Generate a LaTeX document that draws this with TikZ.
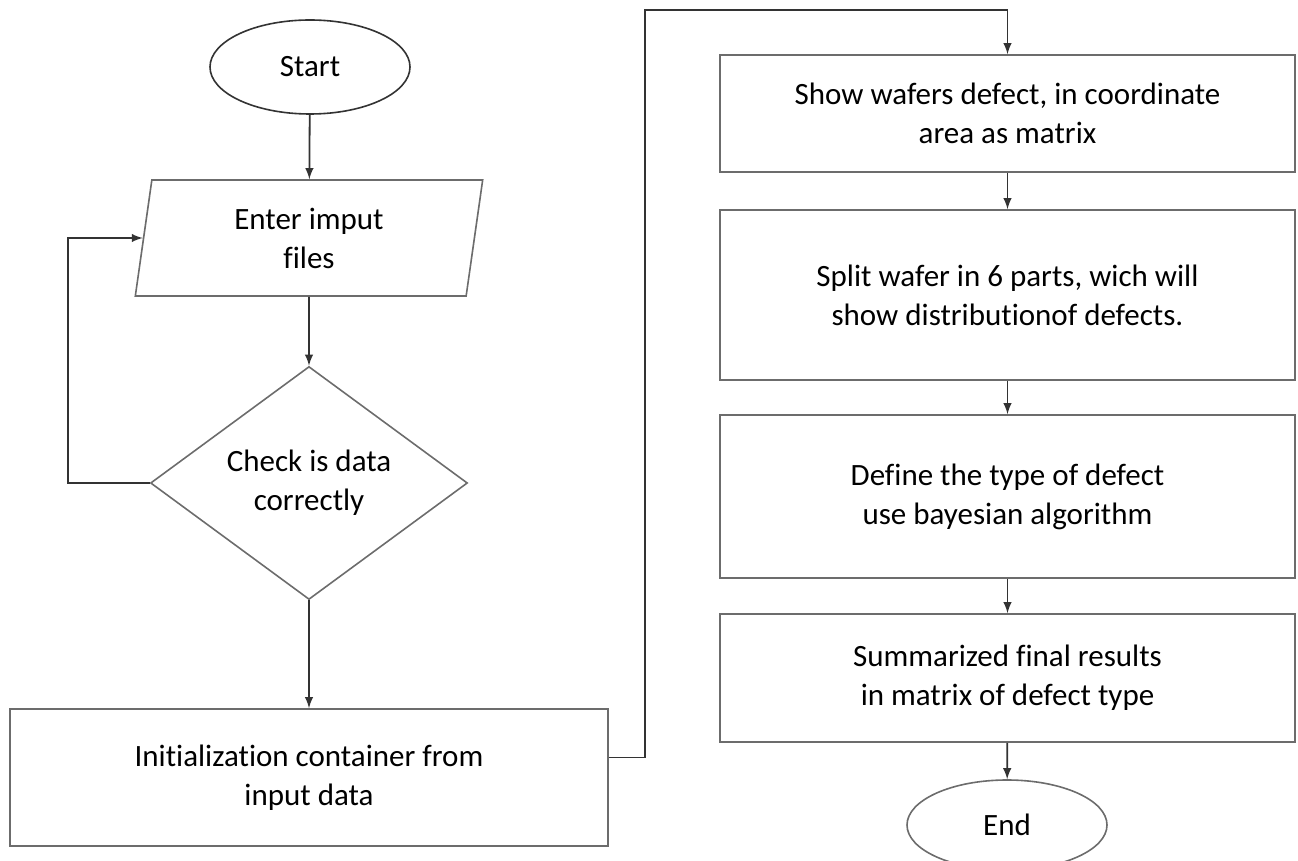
\documentclass[tikz,border=0pt]{standalone}
\usepackage{fontspec}
\setmainfont{Carlito}[Ligatures=NoCommon]
\usetikzlibrary{arrows,shapes.geometric}

\tikzset{
  box/.style={draw=gray!85!black,line width=0.8pt,align=center,inner sep=0pt,
    font=\fontsize{15.5}{19.5}\selectfont},
  term/.style={box,ellipse,minimum width=100pt},
  arr/.style={-latex,draw=black!80,line width=0.9pt},
}

\begin{document}
\begin{tikzpicture}[x=0.5pt,y=-0.5pt]
      \useasboundingbox (0,0) rectangle (1298,861);
      \clip (0,0) rectangle (1298,861);
      % left column
      \node[term,draw=black!80,minimum height=47pt] (start) at (310,67) {Start};
      \node[box,trapezium,trapezium left angle=82.6,trapezium right angle=97.4,
            trapezium stretches=true,minimum width=174pt,minimum height=58pt] (input) at (309,238) {Enter imput\\files};
      \node[box,diamond,minimum width=158.5pt,minimum height=116.5pt] (check) at (309,483) {Check is data\\correctly};
      \node[box,minimum width=299pt,minimum height=68.5pt] (init) at (309,777.5) {Initialization container from\\input data};
      % right column
      \node[box,minimum width=287.5pt,minimum height=58.5pt] (show) at (1007.5,113.5) {Show wafers defect, in coordinate\\area as matrix};
      \node[box,minimum width=287.5pt,minimum height=85pt] (split) at (1007.5,295) {Split wafer in 6 parts, wich will\\show distributionof defects.};
      \node[box,minimum width=287.5pt,minimum height=81.5pt] (define) at (1007.5,496.5) {Define the type of defect\\use bayesian algorithm};
      \node[box,minimum width=287.5pt,minimum height=64pt] (summ) at (1007.5,678) {Summarized final results\\in matrix of defect type};
      \node[term,minimum height=45pt] (end) at (1007,825) {End};
      \coordinate (top) at (645,10);

      \draw[arr] (start) -- (input);
      \draw[arr] (input) -- (check);
      \draw[arr] (check.west) -- ++(-82,0) |- (input.west);
      \draw[arr] (check) -- (init);
      \draw[arr] ([yshift=10pt]init.east) -| (top) -| (show.north);
      \draw[arr] (show) -- (split);
      \draw[arr] (split) -- (define);
      \draw[arr] (define) -- (summ);
      \draw[arr] (summ) -- (end);
\end{tikzpicture}
\end{document}
